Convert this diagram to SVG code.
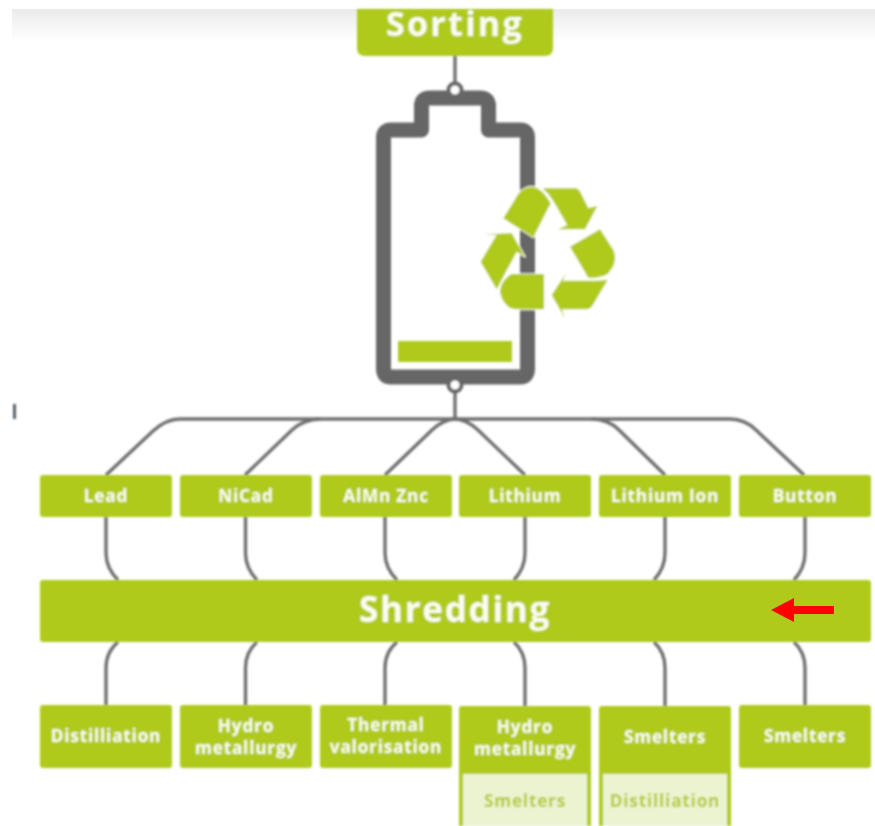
<svg xmlns="http://www.w3.org/2000/svg" width="875" height="826" viewBox="0 0 875 826">
<style>
.g{fill:#b0ca1b}
.box{fill:#b0ca1b}
.inner{fill:#ebf3d1}
.t{font-family:"Open Sans","Liberation Sans",sans-serif;font-weight:700;fill:#fbfdf0;text-anchor:middle}
.s{font-size:17.2px;letter-spacing:.8px}
.l{font-size:35px;letter-spacing:1.7px}
.top{font-size:34px;letter-spacing:2.300px}
.c{fill:none;stroke:#707070;stroke-width:3.400;stroke-linecap:butt}
.r{fill:#b0ca1b;stroke:#fff;stroke-width:5;paint-order:stroke;stroke-linejoin:round}
</style>
<defs>
<linearGradient id="top" x1="0" y1="0" x2="0" y2="1"><stop offset="0" stop-color="#ebebeb"/><stop offset="1" stop-color="#fff"/></linearGradient>
<filter id="soft" x="-2%" y="-2%" width="104%" height="104%"><feGaussianBlur stdDeviation="0.8"/></filter>
</defs>
<rect width="875" height="826" fill="#fff"/>
<rect x="12" y="9" width="863" height="32" fill="url(#top)"/>
<g filter="url(#soft)">
<rect id="edge-mark" x="13" y="404" width="3" height="15" fill="#54606c"/>
<g id="connectors">
<path class="c" d="M455,55V84M455,391V419"/>
<path class="c" d="M106,475L153,431Q166,419 180,419H730Q745,419 756,430L804,475"/>
<path class="c" d="M245,475L292,430Q304,419 320,419M385,475L432,430Q444,419 455,419Q466,419 478,430L525,475M665,475L619,430Q608,419 592,419"/>
<path class="c" d="M106,517V553Q106,568 118,580M245.500,517V553Q245.500,568 257,580M385,517V553Q385,568 397,580M525,517V553Q525,568 514,580M665,517V553Q665,568 654,580M805,517V553Q805,568 794,580"/>
<path class="c" d="M118,642Q106,652 106,668V705M257,642Q245.500,652 245.500,668V705M397,642Q385,652 385,668V705M514,642Q525,652 525,668V706M654,642Q665,652 665,668V706M794,642Q805,652 805,668V705"/>
</g>
<g id="sorting">
<path class="box" d="M357,9H553V48Q553,56 545,56H365Q357,56 357,48Z"/>
<text class="t top" x="455" y="36">Sorting</text>
</g>
<g id="battery">
<path fill="none" stroke="#666" stroke-width="15" stroke-linejoin="round" d="M383.500,138Q383.500,130 391,130H421.500V106Q421.500,98 430,98H480Q488.500,98 488.500,106V130H520Q527.500,130 527.500,138V369Q527.500,377 520,377H391Q383.500,377 383.500,369Z"/>
<circle cx="455" cy="90" r="6.500" fill="#fff" stroke="#666" stroke-width="4"/>
<circle cx="455" cy="385" r="6.500" fill="#fff" stroke="#666" stroke-width="4"/>
<rect class="g" x="398" y="341" width="114" height="21"/>
</g>
<g id="recycle" transform="translate(340 0) scale(.33333)">
<path class="r" d="M490,655L535,582Q552,560 575,560Q605,562 632,610L580,712Z"/>
<path class="r" d="M608,565H705Q715,565 722,578L745,625L772,618L735,688H655L682,675L640,603Q628,582 608,565Z"/>
<path class="r" d="M690,740L780,688L820,750Q835,785 805,820Q785,835 745,833Z"/>
<path class="r" d="M803,840L755,920Q748,928 735,928H665L675,955L635,885L678,820L668,842H770Z"/>
<path class="r" d="M612,822V928H530Q490,925 480,875Q482,840 515,822Z"/>
<path class="r" d="M470,868L422,785L470,705L435,703L515,700L555,770L530,755Z"/>
</g>
<g id="lead"><rect class="box" x="40" y="475" width="132" height="42" rx="3"/><text class="t s" x="106" y="502">Lead</text></g>
<g id="nicad"><rect class="box" x="180" y="475" width="132" height="42" rx="3"/><text class="t s" x="246" y="502">NiCad</text></g>
<g id="almn"><rect class="box" x="320" y="475" width="132" height="42" rx="3"/><text class="t s" x="386" y="502">AlMn Znc</text></g>
<g id="lithium"><rect class="box" x="459" y="475" width="132" height="42" rx="3"/><text class="t s" x="525" y="502">Lithium</text></g>
<g id="lithium-ion"><rect class="box" x="599" y="475" width="132" height="42" rx="3"/><text class="t s" x="665" y="502">Lithium Ion</text></g>
<g id="button"><rect class="box" x="739" y="475" width="132" height="42" rx="3"/><text class="t s" x="805" y="502">Button</text></g>
<g id="shredding"><rect class="box" x="40" y="580" width="831" height="62" rx="3"/><text class="t l" x="455" y="622">Shredding</text></g>
<g id="distilliation"><rect class="box" x="40" y="705" width="132" height="63" rx="3"/><text class="t s" x="106" y="742">Distilliation</text></g>
<g id="hydro-1"><rect class="box" x="180" y="705" width="132" height="63" rx="3"/><text class="t s" x="246" y="732">Hydro</text><text class="t s" x="246" y="754">metallurgy</text></g>
<g id="thermal"><rect class="box" x="320" y="705" width="132" height="63" rx="3"/><text class="t s" x="386" y="731">Thermal</text><text class="t s" x="386" y="753">valorisation</text></g>
<g id="hydro-2"><path class="box" d="M459,826V709Q459,706 462,706H588Q591,706 591,709V826Z"/><text class="t s" x="525" y="733">Hydro</text><text class="t s" x="525" y="755">metallurgy</text><rect class="inner" x="463" y="774" width="124" height="52"/><text class="t s" x="525" y="807" style="fill:#b3cc2c">Smelters</text></g>
<g id="smelters-1"><path class="box" d="M599,826V709Q599,706 602,706H728Q731,706 731,709V826Z"/><text class="t s" x="665" y="743">Smelters</text><rect class="inner" x="603" y="774" width="124" height="52"/><text class="t s" x="665" y="807" style="fill:#b3cc2c">Distilliation</text></g>
<g id="smelters-2"><rect class="box" x="739" y="705" width="132" height="63" rx="3"/><text class="t s" x="805" y="742">Smelters</text></g>
</g>
<path id="red-arrow" fill="#f00" d="M771,610L794,598V606H834V614H794V622Z"/>
</svg>
